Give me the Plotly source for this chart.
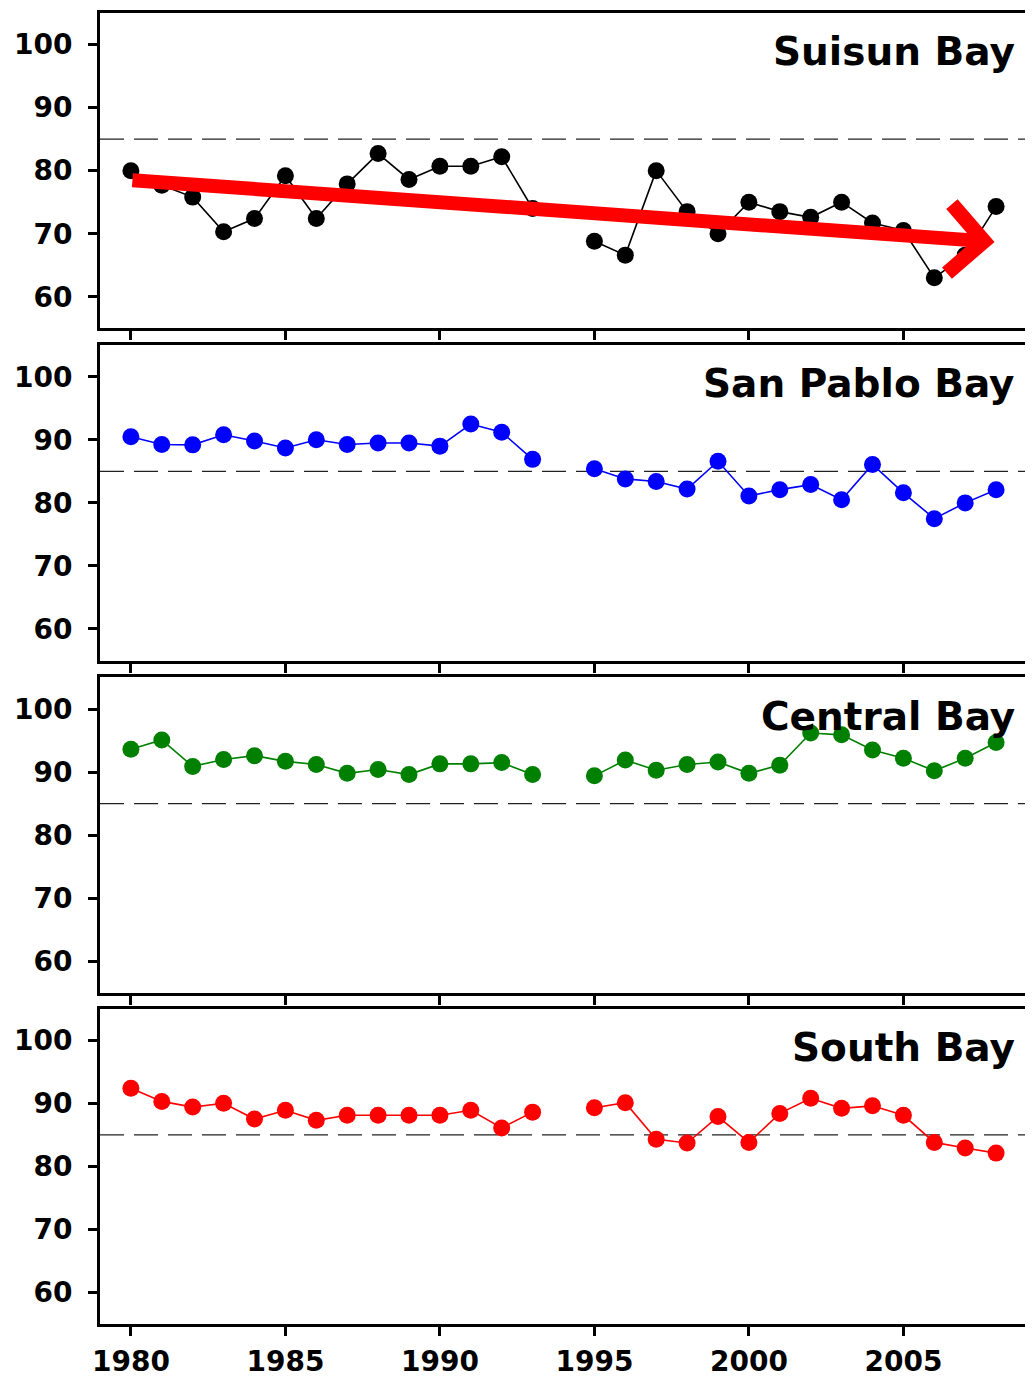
import plotly.graph_objects as go

years = list(range(1980, 2009))

suisun = [80.0, 77.7, 75.8, 70.3, 72.4, 79.2, 72.4, 77.9, 82.7, 78.6, 80.7, 80.7, 82.2, 74.0,
          None, 68.8, 66.6, 80.0, 73.5, 70.0, 75.0, 73.5, 72.6, 75.0, 71.7, 70.5, 63.0, 66.6, 74.3]
san_pablo = [90.5, 89.25, 89.2, 90.8, 89.8, 88.7, 90.0, 89.25, 89.5, 89.5, 89.0, 92.5, 91.2, 86.9,
             None, 85.4, 83.8, 83.4, 82.2, 86.6, 81.1, 82.1, 82.9, 80.5, 86.1, 81.6, 77.5, 80.0, 82.1]
central = [93.6, 95.1, 90.9, 92.0, 92.6, 91.7, 91.2, 89.8, 90.4, 89.6, 91.3, 91.3, 91.5, 89.6,
           None, 89.4, 91.9, 90.3, 91.2, 91.6, 89.8, 91.1, 96.2, 95.9, 93.5, 92.2, 90.2, 92.2, 94.7]
south = [92.4, 90.3, 89.4, 90.0, 87.5, 88.9, 87.3, 88.1, 88.1, 88.1, 88.1, 88.9, 86.1, 88.6,
         None, 89.3, 90.1, 84.3, 83.7, 87.9, 83.8, 88.4, 90.8, 89.2, 89.6, 88.1, 83.8, 82.9, 82.1]

bays = ["Suisun Bay", "San Pablo Bay", "Central Bay", "South Bay"]
series = [suisun, san_pablo, central, south]
colors = ["black", "blue", "green", "red"]

threshold = 85
y_ticks = [60, 70, 80, 90, 100]
x_ticks = [1980, 1985, 1990, 1995, 2000, 2005]

# Suisun trend arrow (start year/value, end year/value)
trend_start = (1980, 78.5)
trend_end = (2007.95, 68.7)

# ---- layout geometry (page pixels; the page body has an 8px margin) ----
OFF = 8
W, H = 1033, 1380
plot_left, plot_right = 100 - OFF, 1027 - OFF
plot_top, plot_bottom = 10 - OFF, 1324 - OFF
panel_tops = [t - OFF for t in (10, 343, 676, 1008)]
panel_h = 316
span = plot_bottom - plot_top

FONT = "DejaVu Sans"
tickfont = dict(family=FONT, size=28, color="black", weight="bold")

fig = go.Figure()
for i, (name, vals, col) in enumerate(zip(bays, series, colors)):
    ax = "" if i == 0 else str(i + 1)
    fig.add_trace(go.Scatter(
        x=years, y=vals, mode="lines+markers",
        line=dict(color=col, width=1.6),
        marker=dict(color=col, size=17),
        connectgaps=False, showlegend=False, hoverinfo="skip",
        xaxis="x" + ax, yaxis="y" + ax,
    ))
    top = panel_tops[i]
    d1 = (plot_bottom - top) / span
    d0 = (plot_bottom - top - panel_h) / span
    last = (i == 3)
    fig.layout["xaxis" + ax] = dict(
        domain=[0, 1], range=[1979, 2009], anchor="y" + ax,
        tickvals=x_ticks, ticks="outside", ticklen=9, tickwidth=3, tickcolor="black",
        showticklabels=last, ticklabelstandoff=1,
        showline=True, linecolor="black", linewidth=3, mirror=True,
        showgrid=False, zeroline=False, tickfont=tickfont,
    )
    fig.layout["yaxis" + ax] = dict(
        domain=[max(d0, 0), min(d1, 1)], range=[55, 105], anchor="x" + ax,
        tickvals=y_ticks, ticks="outside", ticklen=9, tickwidth=3, tickcolor="black",
        ticklabelstandoff=10,
        showline=True, linecolor="black", linewidth=3, mirror=True,
        showgrid=False, zeroline=False, tickfont=tickfont,
    )
    fig.add_shape(type="line", xref=f"x{ax} domain", yref="y" + ax,
                  x0=0, x1=1, y0=threshold, y1=threshold,
                  line=dict(color="#222222", width=1.3, dash="24px,10px"), layer="below")
    fig.add_annotation(text=f"<b>{name}</b>", xref=f"x{ax} domain", yref=f"y{ax} domain",
                       x=0.989, y=0.955, xanchor="right", yanchor="top", showarrow=False,
                       font=dict(family=FONT, size=39, color="black"))

fig.add_annotation(
    x=trend_end[0], y=trend_end[1], ax=trend_start[0], ay=trend_start[1],
    xref="x", yref="y", axref="x", ayref="y", text="", showarrow=True,
    arrowhead=4, arrowwidth=14, arrowsize=0.95, arrowcolor="#ff0000",
)

fig.update_layout(
    width=W, height=H, plot_bgcolor="white", paper_bgcolor="white",
    margin=dict(l=plot_left, r=W - plot_right, t=plot_top, b=H - plot_bottom),
)
fig.write_html("out.html", config={"displayModeBar": False})
